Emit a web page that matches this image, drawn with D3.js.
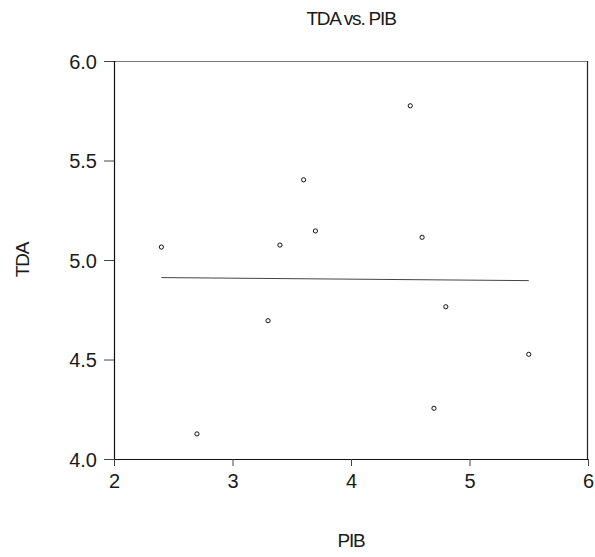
<!DOCTYPE html>
<html>
<head>
<meta charset="utf-8">
<script src="https://cdn.jsdelivr.net/npm/d3@7"></script>
<style>
html, body { margin: 0; padding: 0; background: #fff; }
svg text { font-family: "Liberation Sans", Arial, sans-serif; fill: #1a1a1a; }
</style>
</head>
<body>
<svg id="chart" width="595" height="557"></svg>
<script>
// Data (PIB on x, TDA on y)
const pib = [2.4, 2.7, 3.3, 3.4, 3.6, 3.7, 4.5, 4.6, 4.8, 4.7, 5.5];
const tda = [5.065, 4.126, 4.695, 5.075, 5.403, 5.146, 5.775, 5.114, 4.765, 4.255, 4.526];
const xTicks = [2, 3, 4, 5, 6];
const yTicks = [4.0, 4.5, 5.0, 5.5, 6.0];
const title = "TDA vs. PIB";
const xLabel = "PIB";
const yLabel = "TDA";

const W = 595, H = 557;
const margin = {top: 61, right: 7, bottom: 98, left: 114};
const iw = W - margin.left - margin.right;
const ih = H - margin.top - margin.bottom;

const svg = d3.select("#chart");
const g = svg.append("g").attr("transform", `translate(${margin.left},${margin.top})`);

const x = d3.scaleLinear().domain([2, 6]).range([0, iw]);
const y = d3.scaleLinear().domain([4, 6]).range([ih, 0]);

// frame: top and right border
g.append("line").attr("x1", 0).attr("x2", iw).attr("y1", 0.5).attr("y2", 0.5)
  .attr("stroke", "#777").attr("stroke-width", 1);
g.append("line").attr("x1", iw - 0.5).attr("x2", iw - 0.5).attr("y1", 0).attr("y2", ih)
  .attr("stroke", "#222").attr("stroke-width", 1.2);

// axes
const xAxis = g.append("g").attr("transform", `translate(0,${ih})`)
  .call(d3.axisBottom(x).tickValues(xTicks).tickFormat(d3.format("d")).tickSize(7).tickPadding(8));
const yAxis = g.append("g")
  .call(d3.axisLeft(y).tickValues(yTicks).tickFormat(d3.format(".1f")).tickSize(10).tickPadding(7));

[xAxis, yAxis].forEach(a => {
  a.select(".domain").attr("stroke", "#111").attr("stroke-width", 1.2);
  a.selectAll(".tick line").attr("stroke", "#444");
  a.selectAll(".tick text").style("font-size", "20px").attr("fill", "#1a1a1a");
});
xAxis.selectAll(".domain").attr("d", `M0,0.5H${iw}`);
yAxis.selectAll(".domain").attr("d", `M0.5,0V${ih}`);
yAxis.selectAll(".tick text").attr("dy", "0.36em");

// regression line
const n = pib.length;
const mx = d3.mean(pib), my = d3.mean(tda);
let sxy = 0, sxx = 0;
for (let i = 0; i < n; i++) { sxy += (pib[i] - mx) * (tda[i] - my); sxx += (pib[i] - mx) ** 2; }
const slope = sxy / sxx, icpt = my - slope * mx;
const xmin = d3.min(pib), xmax = d3.max(pib);
g.append("line")
  .attr("x1", x(xmin)).attr("y1", y(icpt + slope * xmin))
  .attr("x2", x(xmax)).attr("y2", y(icpt + slope * xmax))
  .attr("stroke", "#444").attr("stroke-width", 1);

// points
g.selectAll("circle.pt").data(d3.range(n)).join("circle")
  .attr("class", "pt")
  .attr("cx", i => x(pib[i])).attr("cy", i => y(tda[i]))
  .attr("r", 2.1).attr("fill", "none").attr("stroke", "#111").attr("stroke-width", 1);

// title and labels
svg.append("text").attr("x", margin.left + iw / 2).attr("y", 25)
  .attr("text-anchor", "middle").style("font-size", "19px").style("letter-spacing", "-1.2px")
  .text(title);
svg.append("text").attr("x", margin.left + iw / 2).attr("y", 547)
  .attr("text-anchor", "middle").style("font-size", "19px").style("letter-spacing", "-1.2px")
  .text(xLabel);
svg.append("text").attr("transform", `translate(29,${margin.top + ih / 2}) rotate(-90)`)
  .attr("text-anchor", "middle").style("font-size", "19px").style("letter-spacing", "-1.2px")
  .text(yLabel);
</script>
</body>
</html>
